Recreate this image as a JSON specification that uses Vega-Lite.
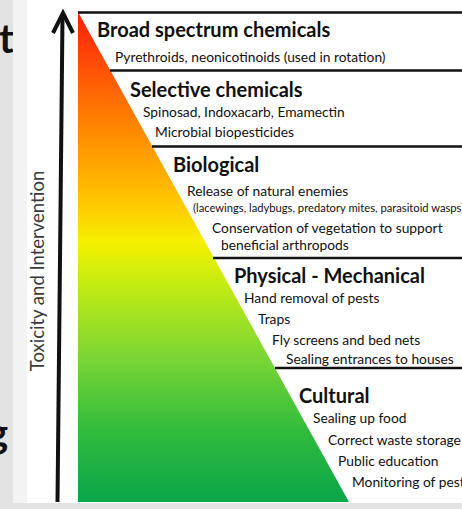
{
  "$schema": "https://vega.github.io/schema/vega-lite/v6.json",
  "width": 462,
  "height": 509,
  "padding": 0,
  "autosize": "none",
  "background": "#e3e3e3",
  "config": {"view": {"stroke": null}, "font": "Lato"},
  "datasets": {
    "slide": [{"t": "te", "x": -1, "y": 53}, {"t": "g", "x": -13, "y": 447}],
    "panels": [
      {"kind": "a_strip", "x": 13, "x2": 27, "y": 0, "y2": 503},
      {"kind": "b_panel", "x": 27, "x2": 462, "y": 0, "y2": 503}
    ],
    "triangle": [{"y": 12, "xl": 78, "xr": 78}, {"y": 502, "xl": 78, "xr": 349}],
    "tiers": [
      {"y": 12.5, "x": 78, "xe": 462},
      {"y": 70.5, "x": 110, "xe": 462},
      {"y": 146.5, "x": 152, "xe": 462},
      {"y": 258, "x": 213, "xe": 462},
      {"y": 368, "x": 275, "xe": 462}
    ],
    "shaft": [{"x": 57.5, "y": 502, "x2": 62.5, "y2": 16}],
    "head": [{"o": 0, "x": 53, "y": 33}, {"o": 1, "x": 63, "y": 13}, {"o": 2, "x": 73, "y": 33}],
    "axislabel": [{"t": "Toxicity and Intervention", "x": 38, "y": 271}],
    "labels": [
      {"kind": "heading", "t": "Broad spectrum chemicals", "x": 97, "y": 37},
      {"kind": "item", "t": "Pyrethroids, neonicotinoids (used in rotation)", "x": 115, "y": 62},
      {"kind": "heading", "t": "Selective chemicals", "x": 130, "y": 97},
      {"kind": "item", "t": "Spinosad, Indoxacarb, Emamectin", "x": 143, "y": 117},
      {"kind": "item", "t": "Microbial biopesticides", "x": 155, "y": 137},
      {"kind": "heading", "t": "Biological", "x": 173, "y": 172},
      {"kind": "item", "t": "Release of natural enemies", "x": 187, "y": 196},
      {"kind": "note", "t": "(lacewings, ladybugs, predatory mites, parasitoid wasps)", "x": 193, "y": 212},
      {"kind": "item", "t": "Conservation of vegetation to support", "x": 212, "y": 233},
      {"kind": "item", "t": "beneficial arthropods", "x": 221, "y": 250},
      {"kind": "heading", "t": "Physical - Mechanical", "x": 234, "y": 283},
      {"kind": "item", "t": "Hand removal of pests", "x": 244, "y": 303},
      {"kind": "item", "t": "Traps", "x": 258, "y": 324},
      {"kind": "item", "t": "Fly screens and bed nets", "x": 272, "y": 345},
      {"kind": "item", "t": "Sealing entrances to houses", "x": 286, "y": 364},
      {"kind": "heading", "t": "Cultural", "x": 299, "y": 403},
      {"kind": "item", "t": "Sealing up food", "x": 313, "y": 423},
      {"kind": "item", "t": "Correct waste storage", "x": 328, "y": 445},
      {"kind": "item", "t": "Public education", "x": 338, "y": 466},
      {"kind": "item", "t": "Monitoring of pests", "x": 352, "y": 487}
    ]
  },
  "layer": [
    {
      "data": {"name": "slide"},
      "mark": {"type": "text", "align": "left", "baseline": "alphabetic", "fontSize": 40, "fontWeight": "bold", "color": "#111111"},
      "encoding": {
        "x": {"field": "x", "type": "quantitative", "scale": {"domain": [0, 462], "nice": false, "zero": false}, "axis": null},
        "y": {"field": "y", "type": "quantitative", "scale": {"domain": [0, 509], "nice": false, "zero": false, "reverse": true}, "axis": null},
        "text": {"field": "t"}
      }
    },
    {
      "data": {"name": "panels"},
      "mark": {"type": "rect"},
      "encoding": {
        "x": {"field": "x", "type": "quantitative", "axis": null},
        "x2": {"field": "x2"},
        "y": {"field": "y", "type": "quantitative", "axis": null},
        "y2": {"field": "y2"},
        "color": {"field": "kind", "type": "nominal", "scale": {"domain": ["a_strip", "b_panel"], "range": ["#f3f3f3", "#ffffff"]}, "legend": null}
      }
    },
    {
      "data": {"name": "triangle"},
      "mark": {
        "type": "area",
        "orient": "horizontal",
        "color": {
          "gradient": "linear", "x1": 0, "y1": 0, "x2": 0, "y2": 1,
          "stops": [
            {"offset": 0, "color": "#ff1e0e"},
            {"offset": 0.1, "color": "#ff4a08"},
            {"offset": 0.25, "color": "#ff8c00"},
            {"offset": 0.4, "color": "#ffcc00"},
            {"offset": 0.47, "color": "#f5f000"},
            {"offset": 0.55, "color": "#c6ec10"},
            {"offset": 0.7, "color": "#7dd634"},
            {"offset": 0.85, "color": "#33bc3c"},
            {"offset": 1, "color": "#0aa64a"}
          ]
        }
      },
      "encoding": {
        "y": {"field": "y", "type": "quantitative", "axis": null},
        "x": {"field": "xr", "type": "quantitative", "axis": null},
        "x2": {"field": "xl"}
      }
    },
    {
      "data": {"name": "tiers"},
      "mark": {"type": "rule", "color": "#111111", "strokeWidth": 2.5},
      "encoding": {
        "y": {"field": "y", "type": "quantitative", "axis": null},
        "x": {"field": "x", "type": "quantitative", "axis": null},
        "x2": {"field": "xe"}
      }
    },
    {
      "data": {"name": "shaft"},
      "mark": {"type": "rule", "color": "#111111", "strokeWidth": 4},
      "encoding": {
        "x": {"field": "x", "type": "quantitative", "axis": null},
        "x2": {"field": "x2"},
        "y": {"field": "y", "type": "quantitative", "axis": null},
        "y2": {"field": "y2"}
      }
    },
    {
      "data": {"name": "head"},
      "mark": {"type": "line", "color": "#111111", "strokeWidth": 4, "strokeJoin": "miter", "strokeCap": "butt"},
      "encoding": {
        "x": {"field": "x", "type": "quantitative", "axis": null},
        "y": {"field": "y", "type": "quantitative", "axis": null},
        "order": {"field": "o"}
      }
    },
    {
      "data": {"name": "axislabel"},
      "mark": {"type": "text", "angle": 270, "align": "center", "baseline": "middle", "fontSize": 18.5, "color": "#3a3a3a"},
      "encoding": {
        "x": {"field": "x", "type": "quantitative", "axis": null},
        "y": {"field": "y", "type": "quantitative", "axis": null},
        "text": {"field": "t"}
      }
    },
    {
      "data": {"name": "labels"},
      "transform": [{"filter": "datum.kind === 'heading'"}],
      "mark": {"type": "text", "align": "left", "baseline": "alphabetic", "fontSize": 20, "fontWeight": "bold", "color": "#111111"},
      "encoding": {
        "x": {"field": "x", "type": "quantitative", "axis": null},
        "y": {"field": "y", "type": "quantitative", "axis": null},
        "text": {"field": "t"}
      }
    },
    {
      "data": {"name": "labels"},
      "transform": [{"filter": "datum.kind === 'item'"}],
      "mark": {"type": "text", "align": "left", "baseline": "alphabetic", "fontSize": 13.8, "color": "#111111"},
      "encoding": {
        "x": {"field": "x", "type": "quantitative", "axis": null},
        "y": {"field": "y", "type": "quantitative", "axis": null},
        "text": {"field": "t"}
      }
    },
    {
      "data": {"name": "labels"},
      "transform": [{"filter": "datum.kind === 'note'"}],
      "mark": {"type": "text", "align": "left", "baseline": "alphabetic", "fontSize": 11.2, "color": "#111111"},
      "encoding": {
        "x": {"field": "x", "type": "quantitative", "axis": null},
        "y": {"field": "y", "type": "quantitative", "axis": null},
        "text": {"field": "t"}
      }
    }
  ]
}
